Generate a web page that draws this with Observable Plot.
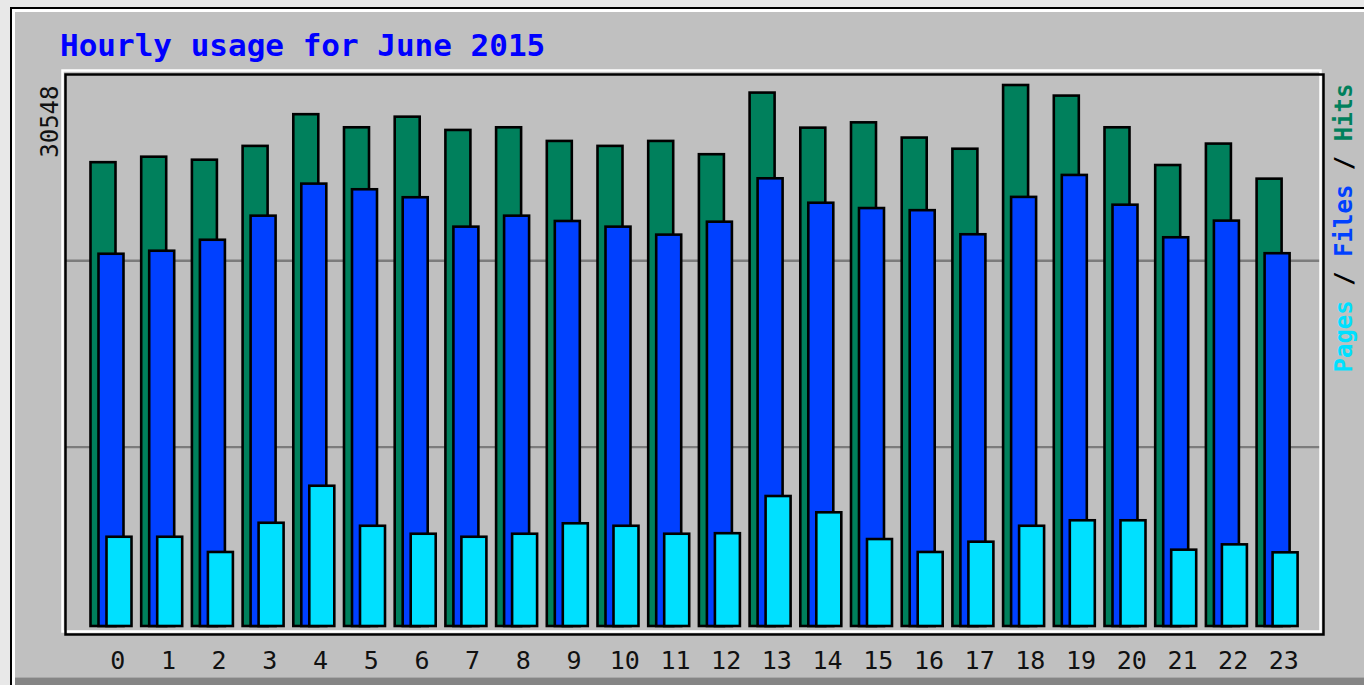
<!DOCTYPE html>
<html>
<head>
<meta charset="utf-8">
<script src="https://cdn.jsdelivr.net/npm/d3@7"></script>
<script src="https://cdn.jsdelivr.net/npm/@observablehq/plot@0.6"></script>
<style>
  html, body { margin: 0; padding: 0; background: #e8e8e8; overflow: hidden; }
  #stage { position: relative; width: 1364px; height: 685px; overflow: hidden; background: #e8e8e8; }
  #panel { position: absolute; left: 10px; top: 7px; width: 1400px; height: 700px;
           border-left: 2px solid #000; border-top: 2px solid #000; background: #c0c0c0; box-sizing: border-box; }
  #hilite { position: absolute; left: 12px; top: 9px; width: 1400px; height: 700px;
            border-left: 3px solid #fff; border-top: 3px solid #fff; box-sizing: border-box; }
  #shadow { position: absolute; left: 15px; top: 677px; width: 1400px; height: 10px; background: #858585; border-top: 1px solid #a8a8a8; }
  #chart { position: absolute; left: 0; top: 0; }
  #title { position: absolute; left: 60px; top: 27px; font: bold 31px "DejaVu Sans Mono", monospace; color: #0000ff; white-space: nowrap; line-height: 36px; }
  #legend { position: absolute; left: 1198px; top: 214px; width: 292px; height: 28px; line-height: 28px;
            transform-origin: 146px 14px; transform: rotate(-90deg);
            font: bold 24px "DejaVu Sans Mono", monospace; white-space: nowrap; text-align: center; }
</style>
</head>
<body>
<div id="stage">
  <div id="panel"></div>
  <div id="hilite"></div>
  <div id="shadow"></div>
  <div id="chart"></div>
  <div id="title">Hourly usage for June 2015</div>
  <div id="legend"><span style="color:#00e0ff">Pages</span><span style="color:#000"> / </span><span style="color:#0040ff">Files</span><span style="color:#000"> / </span><span style="color:#00805c">Hits</span></div>
</div>
<script>
const hours = [0, 1, 2, 3, 4, 5, 6, 7, 8, 9, 10, 11, 12, 13, 14, 15, 16, 17, 18, 19, 20, 21, 22, 23];
const hits  = [26190, 26500, 26330, 27110, 28900, 28160, 28760, 28010, 28160, 27390, 27110, 27390,
               26640, 30120, 28140, 28440, 27580, 26950, 30548, 29950, 28160, 26030, 27240, 25260];
const files = [21020, 21190, 21810, 23170, 24980, 24660, 24210, 22550, 23170, 22870, 22550, 22100,
               22830, 25280, 23900, 23600, 23480, 22120, 24230, 25470, 23790, 21950, 22890, 21050];
const pages = [5040, 5040, 4180, 5830, 7920, 5660, 5210, 5040, 5210, 5800, 5660, 5210,
               5240, 7340, 6420, 4910, 4180, 4760, 5660, 5970, 5970, 4310, 4610, 4160];
const maxLabel = [30548];
const gridValues = [10130, 20650];

const rows = hours.map((h, i) => ({hour: h, hits: hits[i], files: files[i], pages: pages[i]}));

const barStroke = {stroke: "#000", strokeWidth: 2.6};
const step = 50.7;

const chart = Plot.plot({
  width: 1364,
  height: 685,
  marginLeft: 62,
  marginTop: 70,
  marginRight: 41,
  marginBottom: 51,
  style: {background: "transparent", fontFamily: "'DejaVu Sans Mono', monospace", color: "#111"},
  x: {type: "band", domain: hours, range: [88.5, 88.5 + 24 * step], padding: 0, round: false, axis: null},
  y: {domain: [0, 30548], range: [626, 85], axis: null},
  marks: [
    Plot.ruleY(gridValues, {stroke: "#7c7c7c", strokeWidth: 2.4, insetLeft: 3, insetRight: 3}),
    Plot.barY(rows, {x: "hour", y: "hits", fill: "#00805c", ...barStroke, insetLeft: 2, insetRight: step - 27}),
    Plot.barY(rows, {x: "hour", y: "files", fill: "#0040ff", ...barStroke, insetLeft: 10, insetRight: step - 35}),
    Plot.barY(rows, {x: "hour", y: "pages", fill: "#00e0ff", ...barStroke, insetLeft: 18, insetRight: step - 43}),
    Plot.frame({stroke: "#fff", strokeWidth: 2.5, insetRight: 3, insetBottom: 3}),
    Plot.frame({stroke: "#000", strokeWidth: 2.5, insetLeft: 3, insetTop: 4}),
    Plot.text(hours, {x: d => d, frameAnchor: "bottom", lineAnchor: "top", dy: 17, dx: 3.4,
                      text: d => String(d), fontSize: 25, fill: "#111"}),
    Plot.text(maxLabel, {y: d => d, frameAnchor: "left", rotate: -90, textAnchor: "end", dx: -12,
                         text: d => String(d), fontSize: 24, fill: "#111"})
  ]
});
document.getElementById("chart").appendChild(chart);
</script>
</body>
</html>
